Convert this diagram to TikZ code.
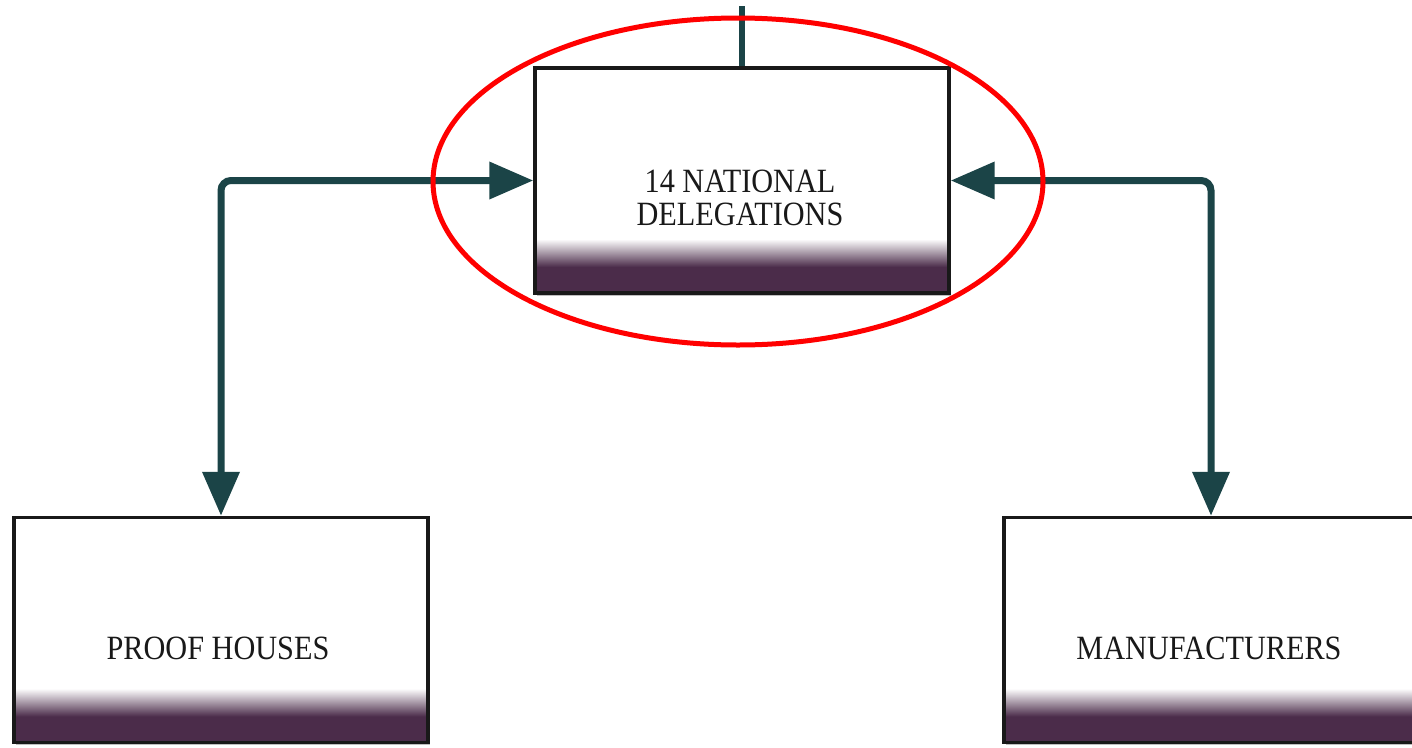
\documentclass[tikz,border=0pt]{standalone}
\usepackage{fontspec}
\setmainfont{Liberation Serif}[FakeStretch=0.89]
\usetikzlibrary{arrows.meta,shadows}
\definecolor{purp}{RGB}{75,44,74}
\definecolor{teal2}{RGB}{27,68,71}
\definecolor{bord}{RGB}{25,25,25}
\tikzset{
  orgbox/.style={draw=bord, line width=3.4pt, fill=white,
    minimum width=414pt, minimum height=225pt, inner sep=0pt,
    drop shadow={shadow xshift=1.5pt, shadow yshift=-2.5pt, opacity=0.25, fill=black},
    path picture={
      \fill[purp] (path picture bounding box.south west) rectangle ([yshift=26pt]path picture bounding box.south east);
      \shade[top color=white, bottom color=purp] ([yshift=26pt]path picture bounding box.south west) rectangle ([yshift=54pt]path picture bounding box.south east);
    }},
  boxtext/.style={font=\fontsize{34pt}{33pt}\selectfont, text=black!90, align=center, inner sep=0pt},
  link/.style={draw=teal2, line width=7pt, rounded corners=10pt},
  bothtips/.style={{Triangle[length=44pt,width=36pt]}-{Triangle[length=44pt,width=36pt]}},
  hilite/.style={draw=red, line width=5pt}
}
\begin{document}
\begin{tikzpicture}[x=1pt,y=-1pt]
\useasboundingbox (0,0) rectangle (1412,747);
\clip (0,0) rectangle (1412,747);
\fill[white] (0,0) rectangle (1412,747);
% boxes
\node[orgbox] (deleg) at (742,180.5) {};
\node[orgbox] (proof) at (221,630) {};
\node[orgbox] (manu) at (1211,630) {};
% texts
\node[boxtext] (tdeleg) at (740,198) {14 NATIONAL\\DELEGATIONS};
\node[boxtext] (tproof) at (218,648.5) {PROOF HOUSES};
\node[boxtext] (tmanu) at (1209,648.5) {MANUFACTURERS};
% connectors
\coordinate (topend) at (742,6);
\draw[draw=teal2, line width=6pt] (topend) -- (deleg.north);
\draw[link, bothtips] (deleg.west) -- (proof.north |- deleg.west) -- (proof.north);
\draw[link, bothtips] (deleg.east) -- (manu.north |- deleg.east) -- (manu.north);
% highlight ellipse
\draw[hilite] (738,181.5) ellipse [x radius=305, y radius=163.5];
\end{tikzpicture}
\end{document}
